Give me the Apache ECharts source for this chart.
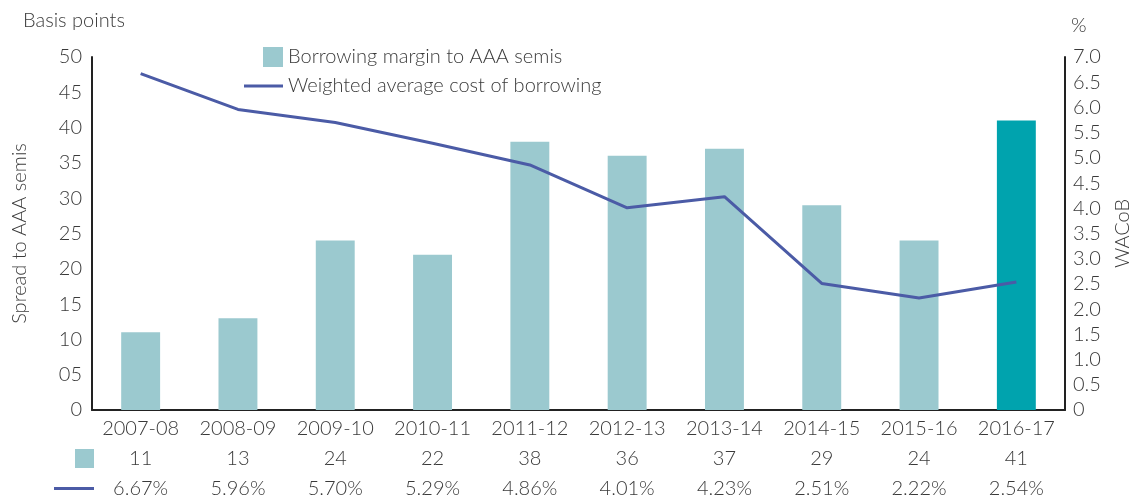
<!DOCTYPE html>
<html>
<head>
<meta charset="utf-8">
<script src="https://cdn.jsdelivr.net/npm/echarts@6/dist/echarts.min.js"></script>
<style>
  html, body { margin: 0; padding: 0; background: #fff; }
  #chart { width: 1130px; height: 497px; }
</style>
</head>
<body>
<div id="chart"></div>
<script>
// data
const years = ['2007-08', '2008-09', '2009-10', '2010-11', '2011-12', '2012-13', '2013-14', '2014-15', '2015-16', '2016-17']
const margin = [11, 13, 24, 22, 38, 36, 37, 29, 24, 41]
const wacob = [6.67, 5.96, 5.70, 5.29, 4.86, 4.01, 4.23, 2.51, 2.22, 2.54]

const barName = 'Borrowing margin to AAA semis'
const lineName = 'Weighted average cost of borrowing'

const font = 'Lato, "Open Sans", sans-serif'
const txt = '#3a3a3a'
const fs = 20
const barColor = '#9bc9cf'
const lastBar = '#00a3ae'
const lineColor = '#4b5ba6'

const chart = echarts.init(document.getElementById('chart'))

const option = {
  backgroundColor: '#fff',
  textStyle: { fontFamily: font, color: txt },
  grid: { left: 92, right: 65, top: 57, bottom: 87, outerBoundsMode: 'none', containLabel: false },
  legend: [
    {
      data: [{ name: barName, icon: 'rect' }],
      left: 263, top: 47, padding: 0, itemWidth: 20, itemHeight: 20, itemGap: 0,
      textStyle: { fontFamily: font, fontSize: fs, color: txt, fontWeight: 300 }
    },
    {
      data: [{ name: lineName, icon: 'rect' }],
      left: 244, top: 76, padding: 0, itemWidth: 39, itemHeight: 3, itemGap: 0,
      textStyle: { fontFamily: font, fontSize: fs, color: txt, fontWeight: 300 }
    }
  ],
  xAxis: {
    type: 'category',
    data: years,
    axisLine: { lineStyle: { color: '#222', width: 2 } },
    axisTick: { show: false },
    axisLabel: {
      margin: 4,
      interval: 0,
      fontFamily: font,
      fontSize: fs,
      fontWeight: 300,
      color: txt,
      lineHeight: 30,
      formatter: (val, i) => val + '\n' + margin[i] + '\n' + wacob[i].toFixed(2) + '%'
    }
  },
  yAxis: [
    {
      type: 'value',
      min: 0, max: 50, interval: 5,
      name: 'Spread to AAA semis',
      nameLocation: 'middle',
      nameGap: 62,
      nameTextStyle: { fontFamily: font, fontSize: fs, fontWeight: 300, color: txt },
      axisLine: { show: true, lineStyle: { color: '#222', width: 2 } },
      axisTick: { show: false },
      splitLine: { show: false },
      axisLabel: {
        margin: 10,
        fontFamily: font, fontSize: fs, fontWeight: 300, color: txt,
        formatter: v => (v === 0 ? '0' : (v < 10 ? '0' + v : String(v)))
      }
    },
    {
      type: 'value',
      min: 0, max: 7, interval: 0.5,
      name: 'WACoB',
      nameLocation: 'middle',
      nameGap: 48,
      nameRotate: 90,
      nameTextStyle: { fontFamily: font, fontSize: fs, fontWeight: 300, color: txt },
      axisLine: { show: true, lineStyle: { color: '#222', width: 2 } },
      axisTick: { show: false },
      splitLine: { show: false },
      axisLabel: {
        margin: 8,
        fontFamily: font, fontSize: fs, fontWeight: 300, color: txt,
        formatter: v => (v === 0 ? '0' : v.toFixed(1))
      }
    }
  ],
  series: [
    {
      name: barName,
      type: 'bar',
      barWidth: '40%',
      itemStyle: { color: barColor },
      data: margin.map((v, i) => (i === margin.length - 1 ? { value: v, itemStyle: { color: lastBar } } : v))
    },
    {
      name: lineName,
      type: 'line',
      yAxisIndex: 1,
      symbol: 'none',
      lineStyle: { color: lineColor, width: 3 },
      itemStyle: { color: lineColor },
      data: wacob
    }
  ],
  graphic: [
    { type: 'text', left: 23, top: 11, style: { text: 'Basis points', font: '300 ' + fs + 'px ' + font, fill: txt } },
    { type: 'text', left: 1071, top: 16, style: { text: '%', font: '300 ' + fs + 'px ' + font, fill: txt } },
    // table row keys
    { type: 'rect', shape: { x: 75, y: 449, width: 19, height: 19 }, style: { fill: barColor } },
    { type: 'rect', shape: { x: 54, y: 487, width: 40, height: 3 }, style: { fill: lineColor } }
  ]
}

chart.setOption(option)
</script>
</body>
</html>
